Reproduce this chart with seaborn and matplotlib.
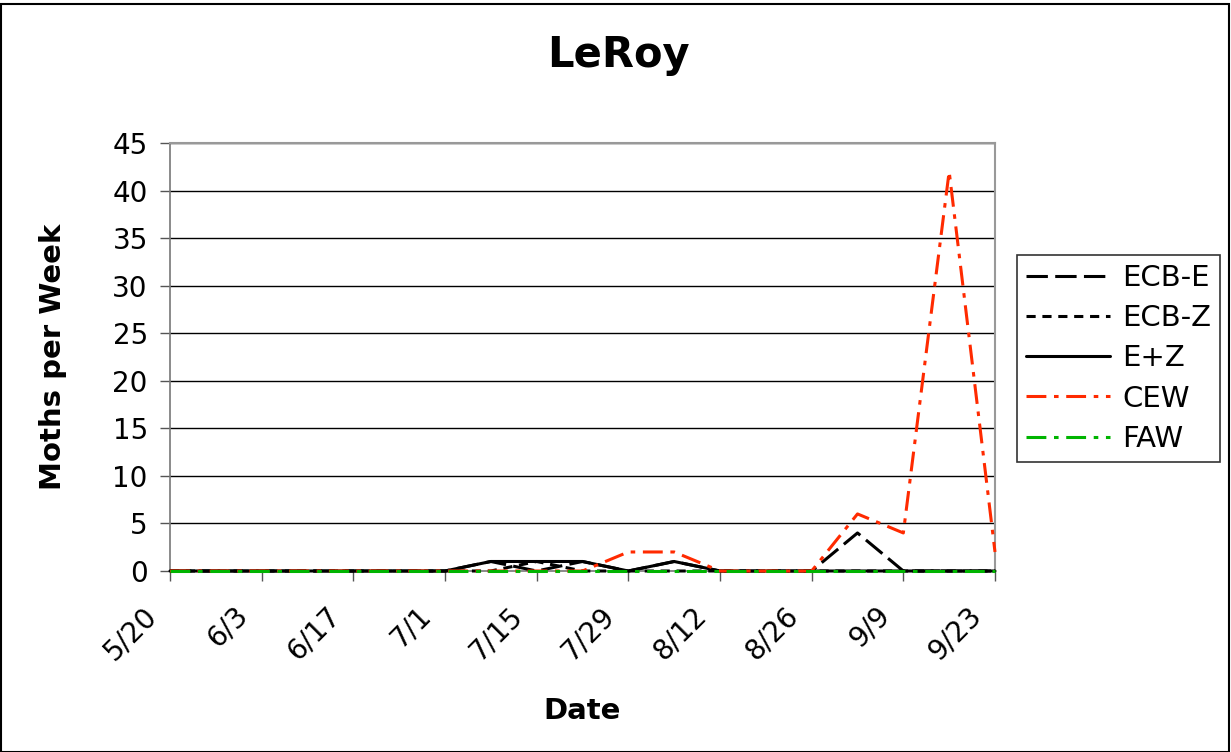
import matplotlib
matplotlib.use("Agg")
import matplotlib.pyplot as plt
import matplotlib.transforms as mtrans
import seaborn as sns
import pandas as pd
from matplotlib.patches import Rectangle

dates = ["5/20", "5/27", "6/3", "6/10", "6/17", "6/24", "7/1", "7/8", "7/15", "7/22",
         "7/29", "8/5", "8/12", "8/19", "8/26", "9/2", "9/9", "9/16", "9/23"]
ecb_e = [0, 0, 0, 0, 0, 0, 0, 1, 0, 1, 0, 1, 0, 0, 0, 4, 0, 0, 0]
ecb_z = [0, 0, 0, 0, 0, 0, 0, 0, 1, 0, 0, 0, 0, 0, 0, 0, 0, 0, 0]
e_z   = [0, 0, 0, 0, 0, 0, 0, 1, 1, 1, 0, 1, 0, 0, 0, 0, 0, 0, 0]
cew   = [0, 0, 0, 0, 0, 0, 0, 0, 0, 0, 2, 2, 0, 0, 0, 6, 4, 42, 2]
faw   = [0, 0, 0, 0, 0, 0, 0, 0, 0, 0, 0, 0, 0, 0, 0, 0, 0, 0, 0]
series_names = ["ECB-E", "ECB-Z", "E+Z", "CEW", "FAW"]
tick_labels = ["5/20", "6/3", "6/17", "7/1", "7/15", "7/29", "8/12", "8/26", "9/9", "9/23"]

vals = {"ECB-E": ecb_e, "ECB-Z": ecb_z, "E+Z": e_z, "CEW": cew, "FAW": faw}

rows = []
for name in series_names:
    for i, v in enumerate(vals[name]):
        rows.append({"week": i, "value": v, "series": name})
df = pd.DataFrame(rows)

sns.set_theme(style="white")
plt.rcParams["font.family"] = ["DejaVu Sans"]
plt.rcParams["text.color"] = "black"
plt.rcParams["axes.labelcolor"] = "black"
plt.rcParams["xtick.color"] = "black"
plt.rcParams["ytick.color"] = "black"

fig = plt.figure(figsize=(12.31, 7.52), dpi=100)
ax = fig.add_axes([170/1231, 1 - 571/752, (995-170)/1231, (571-143)/752])

palette = {"ECB-E": "black", "ECB-Z": "black", "E+Z": "black", "CEW": "#ff2a00", "FAW": "#00b400"}
dashes = {"ECB-E": (7, 2.4), "ECB-Z": (3, 2.2), "E+Z": "", "CEW": (6.5, 2.5, 1.5, 2.5), "FAW": (6.5, 2.5, 1.5, 2.5)}

for y in range(5, 50, 5):
    ax.axhline(y, color="black", lw=1.0, zorder=0)

sns.lineplot(data=df, x="week", y="value", hue="series", style="series",
             hue_order=series_names, style_order=series_names,
             palette=palette, dashes=dashes, linewidth=2.2, ax=ax, legend=False)

data_lines = ax.lines[-5:]
for ln in data_lines:
    ln.set_zorder(3)
    ln.set_clip_on(False)

ax.set_xlim(0, 18)
ax.set_ylim(0, 45)
ax.set_yticks(range(0, 50, 5))
ax.set_xticks(range(0, 19, 2))
ax.set_xticklabels(tick_labels, rotation=45, ha="right", va="bottom", rotation_mode="anchor")
ax.tick_params(axis="both", labelsize=20, length=7, width=1, color="#555555",
               direction="out", bottom=True, left=True, labelcolor="black")
ax.tick_params(axis="y", pad=9)
ax.tick_params(axis="x", pad=29)
shift = mtrans.ScaledTranslation(-8 / 100, 0, fig.dpi_scale_trans)
for lab in ax.get_xticklabels():
    lab.set_transform(lab.get_transform() + shift)
for s in ["top", "right"]:
    ax.spines[s].set_color("#999999")
    ax.spines[s].set_linewidth(1.5)
for s in ["left", "bottom"]:
    ax.spines[s].set_color("#777777")
    ax.spines[s].set_linewidth(1.2)

ax.set_xlabel("Date", fontsize=21, fontweight="bold", color="black")
ax.set_ylabel("Moths per Week", fontsize=21, fontweight="bold", color="black")
ax.xaxis.set_label_coords(0.5, (571 - 697) / 428)
ax.yaxis.set_label_coords((67 - 170) / 825, 0.5)
fig.text(618/1231, 1 - 55/752, "LeRoy", fontsize=30, fontweight="bold", ha="center", va="center",
         color="black")

leg = ax.legend(data_lines, series_names,
                loc="upper left", bbox_to_anchor=(1017/1231, 1 - 255/752),
                bbox_transform=fig.transFigure, fontsize=21, frameon=True,
                fancybox=False, edgecolor="black", handlelength=2.9,
                handletextpad=0.4, borderpad=0.3, labelspacing=0.42, borderaxespad=0)
leg.get_frame().set_linewidth(1.2)
for t in leg.get_texts():
    t.set_color("black")

fig.patches.append(Rectangle((1/1231, 0.0), 1228/1231, 1 - 4/752, transform=fig.transFigure,
                             fill=False, edgecolor="black", linewidth=1.5))

fig.savefig("out.png", dpi=100)
